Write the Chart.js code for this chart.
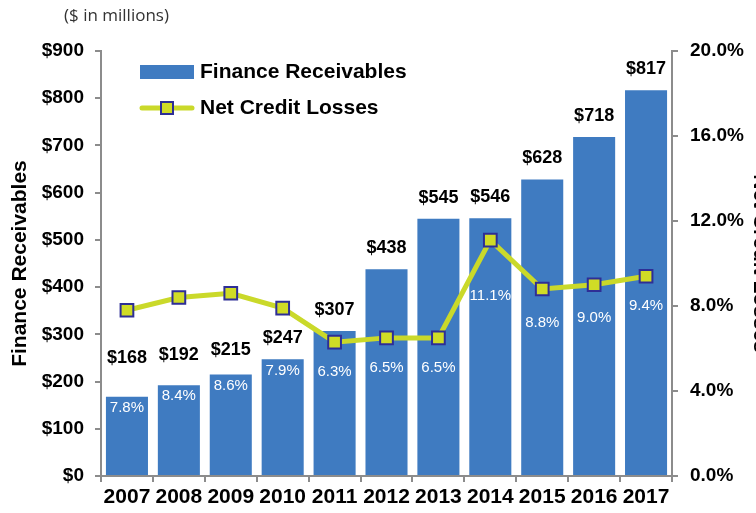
<!DOCTYPE html>
<html>
<head>
<meta charset="utf-8">
<script src="https://cdn.jsdelivr.net/npm/chart.js@4.4.1/dist/chart.umd.min.js"></script>
<style>
    body { margin: 0; background: #fff; }
    .wrap { position: relative; width: 756px; height: 513px; overflow: hidden; }
    .units { position: absolute; left: 64px; top: 3px; font: 17px "Open Sans", sans-serif; color: #333; }
</style>
</head>
<body>
<div class="wrap">
    <div class="units">($ in millions)</div>
    <canvas id="myChart" width="756" height="513"></canvas>
</div>
<script>
const years = ['2007', '2008', '2009', '2010', '2011', '2012', '2013', '2014', '2015', '2016', '2017'];
const receivables = [168, 192, 215, 247, 307, 438, 545, 546, 628, 718, 817];
const lossRate = [7.8, 8.4, 8.6, 7.9, 6.3, 6.5, 6.5, 11.1, 8.8, 9.0, 9.4];

const blue = '#3F7BC1';
const lime = '#CAD92A';
const navy = '#2E2E96';

// value labels: $ above each bar, % inside the bar under the marker
const valueLabels = {
    id: 'valueLabels',
    afterDatasetsDraw(chart, args, opts) {
        const ctx = chart.ctx;
        const bars = chart.getDatasetMeta(0).data;
        const pts = chart.getDatasetMeta(1).data;
        ctx.save();
        ctx.textAlign = 'center';
        ctx.textBaseline = 'middle';
        bars.forEach((bar, i) => {
            ctx.fillStyle = '#000';
            ctx.font = 'bold 18px "Liberation Sans", Arial, sans-serif';
            ctx.fillText('$' + receivables[i], bar.x, bar.y - 21 - opts.lift[i]);

            const py = Math.max(pts[i].y + 30, bar.y + 11) + opts.drop[i];
            ctx.fillStyle = '#fff';
            ctx.font = '15px "Liberation Sans", Arial, sans-serif';
            ctx.fillText(lossRate[i].toFixed(1) + '%', bar.x, py);
        });
        ctx.restore();
    }
};

// legend drawn inside the plot area
const insideLegend = {
    id: 'insideLegend',
    afterDraw(chart) {
        const ctx = chart.ctx;
        const ds = chart.data.datasets;
        ctx.save();
        ctx.font = 'bold 21px "Liberation Sans", Arial, sans-serif';
        ctx.textBaseline = 'middle';

        ctx.fillStyle = ds[0].backgroundColor;
        ctx.fillRect(140, 65, 54, 14);
        ctx.fillStyle = '#000';
        ctx.fillText(ds[0].label, 200, 72);

        ctx.strokeStyle = ds[1].borderColor;
        ctx.lineWidth = 5;
        ctx.lineCap = 'round';
        ctx.beginPath();
        ctx.moveTo(142, 108);
        ctx.lineTo(192, 108);
        ctx.stroke();
        ctx.fillStyle = ds[1].pointBackgroundColor;
        ctx.strokeStyle = ds[1].pointBorderColor;
        ctx.lineWidth = 2;
        ctx.fillRect(161, 102, 12, 12);
        ctx.strokeRect(161, 102, 12, 12);
        ctx.fillStyle = '#000';
        ctx.fillText(ds[1].label, 200, 108);
        ctx.restore();
    }
};

const tickFont = { family: '"Liberation Sans", Arial, sans-serif', weight: 'bold', size: 19 };
const axisGrey = '#8C8C8C';

const data = {
    labels: years,
    datasets: [{
        type: 'bar',
        label: 'Finance Receivables',
        data: receivables,
        backgroundColor: blue,
        barPercentage: 0.81,
        categoryPercentage: 1,
        yAxisID: 'y',
        order: 1
    },
    {
        type: 'line',
        label: 'Net Credit Losses',
        data: lossRate,
        borderColor: lime,
        borderWidth: 5,
        pointStyle: 'rect',
        pointRadius: 9,
        pointBackgroundColor: '#D0DC26',
        pointBorderColor: navy,
        pointBorderWidth: 2,
        tension: 0,
        yAxisID: 'y1',
        order: 0
    }]
};

const config = {
    data: data,
    options: {
        responsive: false,
        animation: false,
        layout: { padding: { top: 51, left: 0, right: 0, bottom: 0 } },
        plugins: {
            legend: { display: false },
            tooltip: { enabled: false },
            valueLabels: {
                lift: [18, 9, 3, 0, 0, 0, 0, 0, 0, 0, 0],
                drop: [0, 0, 0, 0, 0, 0, 0, 26, 4, 3, 0]
            }
        },
        scales: {
            x: {
                grid: { drawOnChartArea: false, color: axisGrey, lineWidth: 2, tickLength: 6, offset: true },
                border: { color: axisGrey, width: 2 },
                ticks: { color: '#000', font: { ...tickFont, size: 21 }, padding: 3, maxRotation: 0, autoSkip: false },
                afterFit(scale) { scale.height = 37; }
            },
            y: {
                position: 'left',
                min: 0,
                max: 900,
                grid: { drawOnChartArea: false, color: axisGrey, lineWidth: 2, tickLength: 6 },
                border: { color: axisGrey, width: 2 },
                ticks: { stepSize: 100, color: '#000', font: tickFont, padding: 11, callback: v => '$' + v },
                title: {
                    display: true,
                    text: 'Finance Receivables',
                    color: '#000',
                    font: { ...tickFont, size: 21 },
                    padding: { top: 8, bottom: 0 }
                },
                afterFit(scale) { scale.width = 101; }
            },
            y1: {
                position: 'right',
                min: 0,
                max: 20,
                grid: { drawOnChartArea: false, color: axisGrey, lineWidth: 2, tickLength: 6 },
                border: { color: axisGrey, width: 2 },
                ticks: { stepSize: 4, color: '#000', font: tickFont, padding: 12, callback: v => v.toFixed(1) + '%' },
                title: {
                    display: true,
                    text: 'Net Credit Losses',
                    color: '#000',
                    font: { ...tickFont, size: 21 },
                    padding: { top: -16, bottom: 0 }
                },
                afterFit(scale) { scale.width = 84; }
            }
        }
    },
    plugins: [valueLabels, insideLegend]
};

const myChart = new Chart(document.getElementById('myChart'), config);
</script>
</body>
</html>
